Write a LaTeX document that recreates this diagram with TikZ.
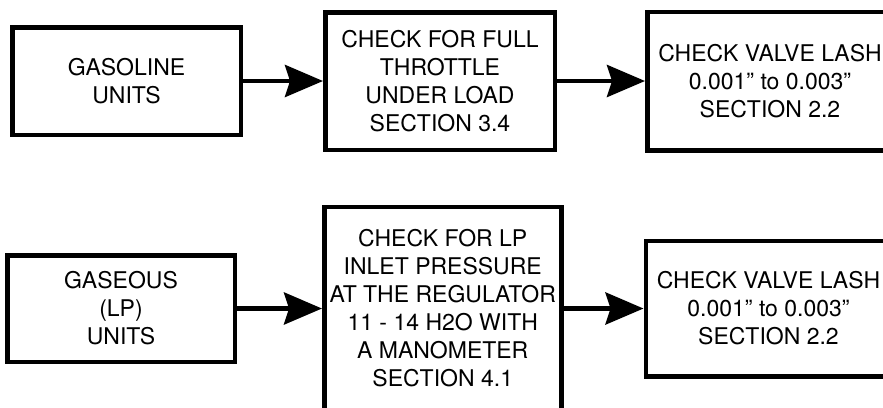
\documentclass[tikz,border=0pt]{standalone}
\usepackage{fontspec}
\setmainfont{TeX Gyre Heros}
\usetikzlibrary{arrows.meta,positioning}

\begin{document}
\begin{tikzpicture}[x=1pt,y=-1pt,>={Stealth[length=38pt,width=32pt,inset=5pt]},
  stepbox/.style={draw,line width=4.5pt,align=center,inner sep=0pt,font=\fontsize{23}{28}\selectfont}]
  \useasboundingbox (0,0) rectangle (883,407);
  \clip (0,0) rectangle (883,407);
  \node[stepbox,minimum width=228.5pt,minimum height=107.5pt] (gas) at (126.5,81) {GASOLINE\\UNITS};
  \node[stepbox,minimum width=229.5pt,minimum height=137.5pt,right=80pt of gas] (full) {CHECK FOR FULL\\THROTTLE\\UNDER LOAD\\SECTION 3.4};
  \node[stepbox,minimum width=245.5pt,minimum height=138.5pt,right=88pt of full] (lash) {CHECK VALVE LASH\\0.001” to 0.003”\\SECTION 2.2};
  \node[stepbox,minimum width=227.5pt,minimum height=106.5pt] (lp) at (121,308.5) {GASEOUS\\(LP)\\UNITS};
  \node[stepbox,minimum width=237pt,minimum height=203.5pt,right=85pt of lp] (press) {CHECK FOR LP\\INLET PRESSURE\\AT THE REGULATOR\\11 - 14 H2O WITH\\A MANOMETER\\SECTION 4.1};
  \node[stepbox,minimum width=245.5pt,minimum height=135.5pt,right=80pt of press] (lash2) {CHECK VALVE LASH\\0.001” to 0.003”\\SECTION 2.2};
  \draw[->,line width=4.5pt] (gas) -- (full);
  \draw[->,line width=4.5pt] (full) -- (lash);
  \draw[->,line width=4.5pt] (lp) -- (press);
  \draw[->,line width=4.5pt] (press) -- (lash2);
\end{tikzpicture}
\end{document}
